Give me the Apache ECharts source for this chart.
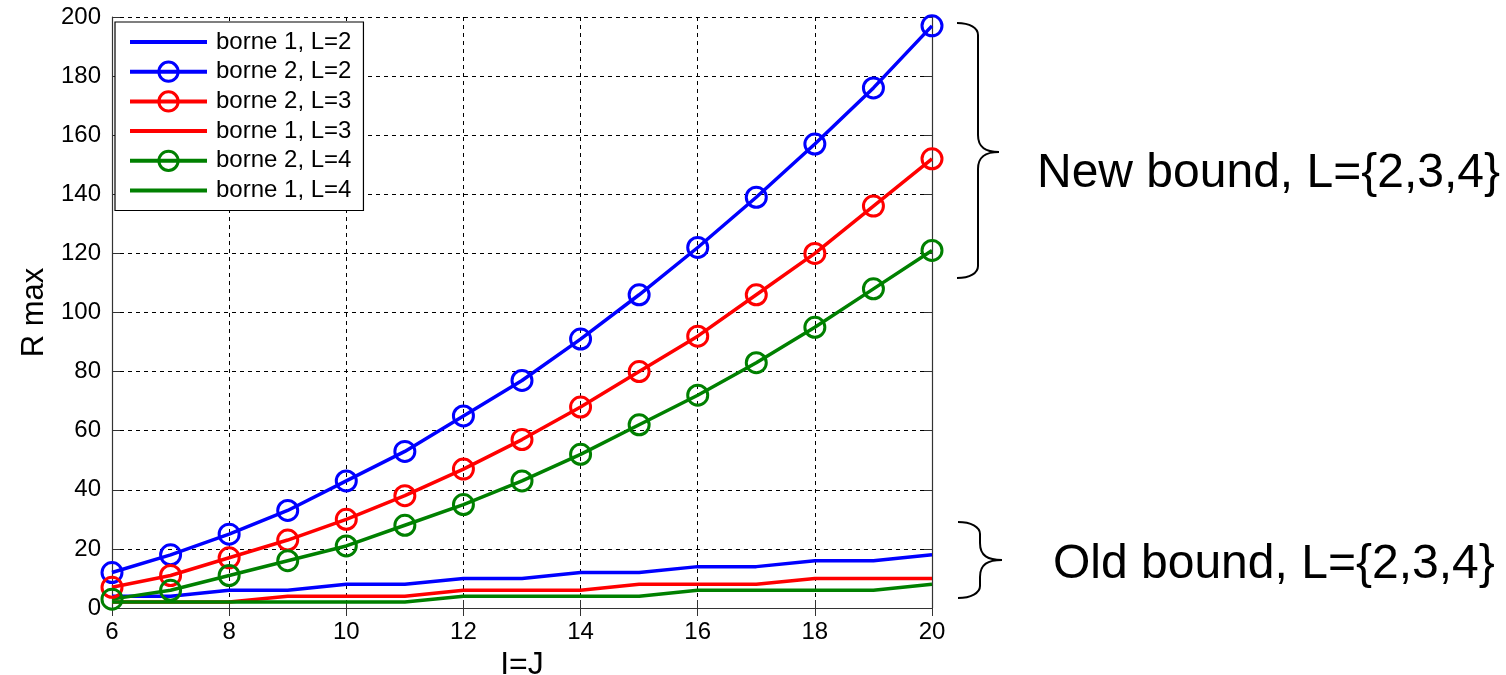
<!DOCTYPE html>
<html>
<head>
<meta charset="utf-8">
<script src="https://cdn.jsdelivr.net/npm/echarts@6/dist/echarts.min.js"></script>
<style>
    html, body { margin: 0; padding: 0; background: #fff; }
    #main { width: 1506px; height: 675px; }
</style>
</head>
<body>
<div id="main"></div>
<script>
// I=J
const ijValues = [6, 7, 8, 9, 10, 11, 12, 13, 14, 15, 16, 17, 18, 19, 20];

// new bound (borne 2)
const borne2L2 = [12, 18, 25, 33, 43, 53, 65, 77, 91, 106, 122, 139, 157, 176, 197];
const borne2L3 = [7, 11, 17, 23, 30, 38, 47, 57, 68, 80, 92, 106, 120, 136, 152];
const borne2L4 = [3, 6, 11, 16, 21, 28, 35, 43, 52, 62, 72, 83, 95, 108, 121];

// old bound (borne 1)
const borne1L2 = [4, 4, 6, 6, 8, 8, 10, 10, 12, 12, 14, 14, 16, 16, 18];
const borne1L3 = [2, 2, 2, 4, 4, 4, 6, 6, 6, 8, 8, 8, 10, 10, 10];
const borne1L4 = [2, 2, 2, 2, 2, 2, 4, 4, 4, 4, 6, 6, 6, 6, 8];

const BLUE = '#0000ff';
const RED = '#ff0000';
const GREEN = '#008000';
const FONT = 'Liberation Sans, Arial, sans-serif';

const pairs = (vals) => ijValues.map((x, i) => [x, vals[i]]);

// plain line (borne 1)
const plainLine = (name, vals, color) => ({
    name: name,
    type: 'line',
    data: pairs(vals),
    color: color,
    symbol: 'none',
    lineStyle: { color: color, width: 3.5 },
    itemStyle: { color: color },
    animation: false
});

// line with open circles (borne 2)
const circleLine = (name, vals, color) => ({
    name: name,
    type: 'line',
    data: pairs(vals),
    color: color,
    symbol: 'circle',
    symbolSize: 20,
    clip: false,
    lineStyle: { color: color, width: 3.5 },
    itemStyle: { color: 'rgba(0,0,0,0)', borderColor: color, borderWidth: 3 },
    animation: false
});

// curly brace "}" made of curves and lines
const brace = (x0, xv, xt, yTop, yMid, yBot) => {
    const st = { stroke: '#000', lineWidth: 2, fill: null };
    const r = 12;
    return [
        { type: 'bezierCurve', shape: { x1: x0, y1: yTop, cpx1: x0 + 13, cpy1: yTop, cpx2: xv, cpy2: yTop + 5, x2: xv, y2: yTop + r }, style: st },
        { type: 'line', shape: { x1: xv, y1: yTop + r, x2: xv, y2: yMid - r - 5 }, style: st },
        { type: 'bezierCurve', shape: { x1: xv, y1: yMid - r - 5, cpx1: xv, cpy1: yMid - 4, cpx2: xv + 8, cpy2: yMid, x2: xt, y2: yMid }, style: st },
        { type: 'bezierCurve', shape: { x1: xt, y1: yMid, cpx1: xv + 8, cpy1: yMid, cpx2: xv, cpy2: yMid + 4, x2: xv, y2: yMid + r + 5 }, style: st },
        { type: 'line', shape: { x1: xv, y1: yMid + r + 5, x2: xv, y2: yBot - r }, style: st },
        { type: 'bezierCurve', shape: { x1: xv, y1: yBot - r, cpx1: xv, cpy1: yBot - 5, cpx2: x0 + 13, cpy2: yBot, x2: x0, y2: yBot }, style: st }
    ];
};

// legend entries: borne 1 has no marker
const legendItem = (name, marker) => ({
    name: name,
    lineStyle: { width: 4 },
    itemStyle: marker ? { borderWidth: 3 } : { opacity: 0 }
});

const chart = echarts.init(document.getElementById('main'));

const frameAxis = {
    axisLine: { show: true, lineStyle: { color: '#333', width: 1.2 } },
    axisTick: { show: true, inside: true, length: 8, lineStyle: { color: '#333' } },
    axisLabel: { show: false },
    splitLine: { show: false }
};

const option = {
    backgroundColor: '#fff',
    textStyle: { fontFamily: FONT },
    grid: { left: 112, top: 17, right: 574, bottom: 67, outerBoundsMode: 'none', containLabel: false },
    legend: {
        orient: 'vertical',
        left: 115,
        top: 22,
        padding: [8, 12, 8, 13],
        itemGap: 5.7,
        itemWidth: 77,
        itemHeight: 24,
        backgroundColor: '#fff',
        borderColor: '#000',
        borderWidth: 1.2,
        textStyle: { fontSize: 24, color: '#000', fontFamily: FONT, padding: [0, 0, 0, 4] },
        data: [
            legendItem('borne 1, L=2', false),
            legendItem('borne 2, L=2', true),
            legendItem('borne 2, L=3', true),
            legendItem('borne 1, L=3', false),
            legendItem('borne 2, L=4', true),
            legendItem('borne 1, L=4', false)
        ]
    },
    xAxis: [
        {
            type: 'value',
            min: 6,
            max: 20,
            interval: 2,
            name: 'I=J',
            nameLocation: 'middle',
            nameGap: 35,
            nameTextStyle: { fontSize: 32, color: '#000', fontFamily: FONT },
            axisLine: { lineStyle: { color: '#333', width: 1.2 } },
            axisTick: { inside: true, length: 8, lineStyle: { color: '#333' } },
            axisLabel: { fontSize: 24, color: '#000', margin: 12, fontFamily: FONT },
            splitLine: { show: true, lineStyle: { color: '#000', type: [4, 4], width: 1 } }
        },
        Object.assign({ type: 'value', min: 6, max: 20, interval: 2, position: 'top' }, frameAxis)
    ],
    yAxis: [
        {
            type: 'value',
            min: 0,
            max: 200,
            interval: 20,
            name: 'R max',
            nameLocation: 'middle',
            nameGap: 58,
            nameTextStyle: { fontSize: 31, color: '#000', fontFamily: FONT },
            axisLine: { show: true, lineStyle: { color: '#333', width: 1.2 } },
            axisTick: { show: true, inside: true, length: 8, lineStyle: { color: '#333' } },
            axisLabel: { fontSize: 24, color: '#000', margin: 11, fontFamily: FONT },
            splitLine: { show: true, lineStyle: { color: '#000', type: [4, 4], width: 1 } }
        },
        Object.assign({ type: 'value', min: 0, max: 200, interval: 20, position: 'right' }, frameAxis)
    ],
    series: [
        plainLine('borne 1, L=2', borne1L2, BLUE),
        circleLine('borne 2, L=2', borne2L2, BLUE),
        circleLine('borne 2, L=3', borne2L3, RED),
        plainLine('borne 1, L=3', borne1L3, RED),
        circleLine('borne 2, L=4', borne2L4, GREEN),
        plainLine('borne 1, L=4', borne1L4, GREEN)
    ],
    graphic: brace(957, 978, 999, 23, 152, 278).concat(brace(958, 980, 1002, 522, 560, 598)).concat([
        {
            type: 'text',
            x: 1037,
            y: 174,
            style: { text: 'New bound, L={2,3,4}', font: '48px ' + FONT, fill: '#000', verticalAlign: 'middle' }
        },
        {
            type: 'text',
            x: 1053,
            y: 565,
            style: { text: 'Old bound, L={2,3,4}', font: '48px ' + FONT, fill: '#000', verticalAlign: 'middle' }
        }
    ])
};

chart.setOption(option);
</script>
</body>
</html>
